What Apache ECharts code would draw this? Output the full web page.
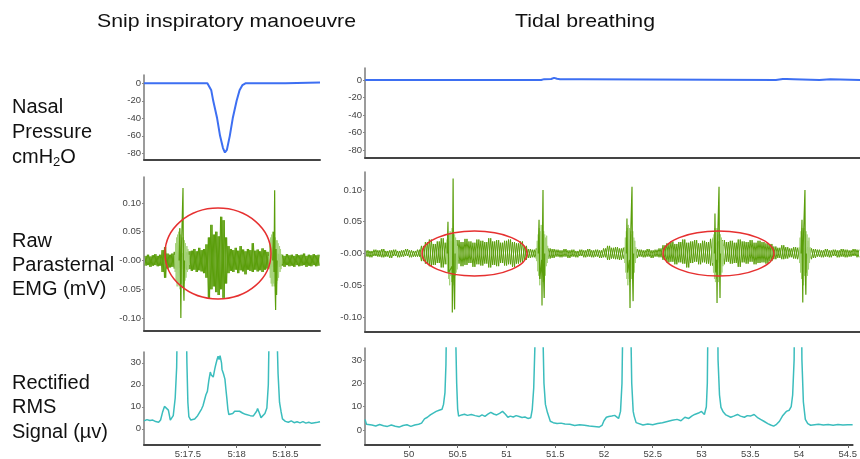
<!DOCTYPE html>
<html><head><meta charset="utf-8">
<script src="https://cdn.jsdelivr.net/npm/echarts@6/dist/echarts.min.js"></script>
<style>html,body{margin:0;padding:0;background:#fff}#c{width:860px;height:459px}</style>
</head><body><div id="c"></div><script>
// ---------- tick labels ----------
const leftTimeTicks = [17.5, 18, 18.5];
const rightTimeTicks = [50, 50.5, 51, 51.5, 52, 52.5, 53, 53.5, 54, 54.5];
const pressureTicks = [0, -20, -40, -60, -80];
const emgTicks = [0.1, 0.05, 0, -0.05, -0.1];
const rmsTicks = [0, 10, 20, 30];

// ---------- nasal pressure (cmH2O) [time s, value] ----------
const pressureLeft = [[17.05,0],[17.70,0],[17.72,-2],[17.74,-8],[17.76,-20],[17.78,-30],[17.80,-40],[17.83,-60],[17.86,-74],[17.88,-79],[17.90,-76],[17.93,-60],[17.96,-40],[18.00,-20],[18.03,-8],[18.06,-2],[18.09,0],[18.50,0],[18.52,1],[18.855,1]];
const pressureRight = [[49.55,0],[51.33,0],[51.36,1],[51.43,1.2],[51.46,2.5],[51.49,1.5],[51.52,1],[51.74,1],[51.76,0],[53.70,0],[53.72,1],[53.77,1.2],[53.79,2.3],[53.81,1.2],[53.88,1],[53.90,0],[54.14,0],[54.16,1],[54.25,1],[54.27,0],[54.55,0]];

// ---------- raw EMG (mV): upper / lower edges of the trace, sampled every step ----------
const emgLeftStart = 17.06, emgLeftStep = 0.025;
const emgLeftUpper = [0.008,0.01,0.007,0.009,0.011,0.008,0.01, 0.018,0.023,0.012, 0.01,0.012, 0.015,0.014,0.016,0.013,0.015,0.014,0.016, 0.017,0.02,0.016,0.022,0.018,0.02, 0.028,0.04,0.062,0.045,0.05,0.042,0.076,0.07,0.04,0.025, 0.02,0.018,0.022,0.017,0.025,0.019,0.016,0.02,0.018,0.03,0.017,0.019,0.016,0.021,0.018,0.015, 0.012,0.013,0.011,0.012,0.011, 0.01,0.008,0.011,0.009,0.01,0.008,0.011,0.009,0.01,0.012,0.008,0.01,0.009,0.011,0.009,0.01];
const emgLeftLower = [-0.009,-0.008,-0.011,-0.009,-0.008,-0.01,-0.009, -0.02,-0.03,-0.014, -0.012,-0.011, -0.014,-0.016,-0.013,-0.015,-0.014,-0.016,-0.015, -0.018,-0.016,-0.02,-0.017,-0.019,-0.022, -0.03,-0.065,-0.05,-0.045,-0.055,-0.06,-0.05,-0.065,-0.04,-0.022, -0.018,-0.02,-0.016,-0.022,-0.017,-0.019,-0.024,-0.016,-0.018,-0.02,-0.016,-0.019,-0.017,-0.02,-0.016,-0.014, -0.012,-0.011,-0.013,-0.012,-0.011, -0.009,-0.011,-0.008,-0.01,-0.009,-0.011,-0.008,-0.01,-0.009,-0.008,-0.011,-0.009,-0.01,-0.008,-0.01,-0.009];
const emgRightStart = 49.56, emgRightStep = 0.04;
const emgRightUpper = [0.005,0.004,0.006,0.005,0.007,0.004,0.005,0.006,0.004,0.005,0.007,0.005,0.004,0.006, 0.012,0.018,0.022,0.015,0.019,0.024,0.017,0.02,0.016,0.021,0.018,0.023,0.019,0.017,0.022,0.02,0.018,0.024,0.019,0.021,0.017,0.02,0.022,0.018,0.016,0.019,0.012, 0.007,0.006,0.008,0.01,0.009,0.008,0.007, 0.006,0.005,0.007,0.005,0.006,0.004,0.006,0.005,0.007,0.005,0.006,0.005,0.008,0.012,0.009, 0.01,0.008,0.009,0.01,0.008,0.007, 0.006,0.005,0.007,0.005,0.006,0.008, 0.013,0.016,0.019,0.015,0.018,0.022,0.017,0.019,0.021,0.016,0.02,0.018,0.023,0.017,0.019,0.021,0.018,0.02,0.017,0.022,0.019,0.018,0.021,0.017,0.02,0.018,0.016,0.015,0.011, 0.009,0.013,0.01,0.008, 0.01,0.009,0.008,0.01,0.008,0.007, 0.006,0.005,0.007,0.005,0.006,0.005,0.007,0.006,0.005,0.007,0.006];
const emgRightLower = [-0.005,-0.006,-0.004,-0.005,-0.006,-0.005,-0.007,-0.004,-0.006,-0.005,-0.004,-0.006,-0.005,-0.005, -0.012,-0.016,-0.02,-0.018,-0.015,-0.022,-0.017,-0.019,-0.027,-0.016,-0.02,-0.018,-0.015,-0.021,-0.017,-0.019,-0.016,-0.022,-0.018,-0.02,-0.015,-0.019,-0.017,-0.021,-0.016,-0.014,-0.01, -0.007,-0.006,-0.008,-0.009,-0.01,-0.008,-0.007, -0.005,-0.006,-0.005,-0.007,-0.005,-0.006,-0.004,-0.006,-0.005,-0.006,-0.005,-0.007,-0.006,-0.01,-0.008, -0.009,-0.01,-0.008,-0.009,-0.01,-0.007, -0.005,-0.006,-0.005,-0.007,-0.005,-0.006, -0.01,-0.014,-0.013,-0.017,-0.014,-0.016,-0.022,-0.015,-0.013,-0.017,-0.014,-0.016,-0.019,-0.015,-0.014,-0.017,-0.013,-0.016,-0.015,-0.021,-0.014,-0.016,-0.013,-0.017,-0.015,-0.014,-0.016,-0.012,-0.009, -0.007,-0.009,-0.008,-0.006, -0.008,-0.009,-0.01,-0.008,-0.009,-0.007, -0.005,-0.006,-0.005,-0.006,-0.004,-0.006,-0.005,-0.006,-0.005,-0.004,-0.006];

// ECG artefact bursts (light) and their tall spikes, [time s, mV]
const burstL1 = [[17.365,0.01],[17.37,-0.02],[17.375,0.03],[17.38,-0.035],[17.385,0.04],[17.39,-0.045],[17.395,0.045],[17.40,-0.04],[17.405,0.05],[17.41,-0.045],[17.415,0.056],[17.42,-0.05],[17.425,0.045],[17.435,-0.04],[17.44,0.04],[17.445,-0.045],[17.455,0.04],[17.46,-0.04],[17.465,0.035],[17.47,-0.035],[17.475,0.03],[17.48,-0.03],[17.49,0.025],[17.495,-0.02],[17.5,0.02],[17.505,-0.015],[17.51,0.01],[17.515,-0.008]];
const burstL2 = [[18.33,0.008],[18.335,-0.015],[18.34,0.03],[18.345,-0.03],[18.35,0.04],[18.355,-0.04],[18.36,0.045],[18.365,-0.045],[18.37,0.05],[18.375,-0.04],[18.38,0.045],[18.385,-0.045],[18.395,0.04],[18.4,-0.045],[18.405,0.035],[18.41,-0.04],[18.415,0.035],[18.42,-0.035],[18.425,0.03],[18.43,-0.03],[18.44,0.025],[18.445,-0.02],[18.45,0.02],[18.455,-0.015],[18.46,0.01],[18.465,-0.006]];
const spikeL1 = [[17.41,0],[17.418,0.056],[17.424,-0.03],[17.428,-0.1],[17.434,0.02],[17.45,0.126],[17.455,-0.04],[17.46,-0.07],[17.465,0]];
const spikeL2 = [[18.37,0],[18.378,0.05],[18.383,-0.02],[18.39,0.122],[18.395,-0.05],[18.40,-0.086],[18.405,0.02],[18.41,-0.06],[18.415,0]];

const burstR1 = [[50.37,0.008],[50.375,-0.015],[50.38,0.022],[50.385,-0.03],[50.39,0.028],[50.395,-0.04],[50.40,0.03],[50.405,-0.05],[50.41,0.035],[50.415,-0.035],[50.42,0.03],[50.425,-0.045],[50.43,0.04],[50.435,-0.03],[50.445,0.035],[50.45,-0.05],[50.455,0.03],[50.46,-0.035],[50.465,0.025],[50.47,-0.03],[50.475,0.02],[50.48,-0.025],[50.485,0.012],[50.49,-0.01]];
const burstR2 = [[51.28,0.006],[51.285,-0.012],[51.29,0.02],[51.295,-0.028],[51.30,0.03],[51.305,-0.035],[51.31,0.04],[51.315,-0.05],[51.32,0.035],[51.325,-0.04],[51.33,0.045],[51.335,-0.03],[51.34,0.03],[51.35,-0.045],[51.355,0.035],[51.36,-0.03],[51.365,0.03],[51.37,-0.035],[51.375,0.025],[51.38,-0.02],[51.385,0.028],[51.39,-0.015],[51.395,0.012],[51.40,-0.008]];
const burstR3 = [[52.17,0.01],[52.175,-0.015],[52.18,0.025],[52.185,-0.03],[52.19,0.035],[52.195,-0.04],[52.20,0.04],[52.205,-0.05],[52.21,0.045],[52.215,-0.04],[52.22,0.04],[52.225,-0.045],[52.235,0.035],[52.24,-0.04],[52.245,0.03],[52.25,-0.04],[52.255,0.035],[52.26,-0.03],[52.265,0.025],[52.27,-0.03],[52.275,0.02],[52.28,-0.015],[52.285,0.01],[52.29,-0.008]];
const burstR4 = [[53.055,0.008],[53.06,-0.015],[53.065,0.025],[53.07,-0.03],[53.075,0.03],[53.08,-0.04],[53.085,0.04],[53.09,-0.045],[53.095,0.035],[53.10,-0.04],[53.105,0.04],[53.11,-0.035],[53.115,0.03],[53.12,-0.045],[53.13,0.035],[53.135,-0.03],[53.14,0.03],[53.145,-0.035],[53.15,0.025],[53.155,-0.03],[53.16,0.02],[53.165,-0.02],[53.17,0.012],[53.175,-0.008]];
const burstR5 = [[53.935,0.01],[53.94,-0.015],[53.945,0.025],[53.95,-0.03],[53.955,0.035],[53.96,-0.04],[53.965,0.04],[53.97,-0.045],[53.975,0.035],[53.98,-0.05],[53.985,0.04],[53.99,-0.035],[53.995,0.03],[54.0,-0.04],[54.005,0.035],[54.01,-0.03],[54.015,0.03],[54.02,-0.035],[54.025,0.02],[54.03,-0.025],[54.035,0.025],[54.04,-0.015],[54.045,0.01],[54.05,-0.006]];
const spikeR1 = [[50.38,0],[50.388,0.05],[50.395,-0.03],[50.43,-0.02],[50.432,-0.093],[50.436,0.02],[50.44,0.118],[50.445,-0.03],[50.455,-0.088],[50.46,0]];
const spikeR2 = [[51.30,0],[51.308,0.053],[51.315,-0.04],[51.335,-0.01],[51.338,-0.082],[51.342,0.02],[51.348,0.1],[51.352,-0.03],[51.36,-0.07],[51.365,0]];
const spikeR3 = [[52.19,0],[52.196,0.055],[52.202,-0.03],[52.222,-0.01],[52.227,-0.086],[52.232,0.02],[52.247,0.105],[52.252,-0.03],[52.258,-0.075],[52.263,0]];
const spikeR4 = [[53.08,0],[53.085,0.063],[53.092,-0.03],[53.102,-0.01],[53.106,-0.078],[53.112,0.02],[53.126,0.105],[53.131,-0.02],[53.136,-0.07],[53.14,0]];
const spikeR5 = [[53.955,0],[53.964,0.053],[53.968,-0.02],[53.972,-0.077],[53.976,0.01],[53.994,0.1],[53.998,-0.03],[54.003,-0.065],[54.008,0]];

// ---------- rectified RMS (µV) [time s, value] ----------
const rmsLeft = [[17.05,3.6],[17.08,4.2],[17.11,3.8],[17.14,4.0],[17.17,3.3],[17.20,3.0],[17.22,4.0],[17.24,7.5],[17.26,10.2],[17.28,11.0],[17.30,8.5],[17.32,4.0],[17.335,3.4],[17.35,6.0],[17.37,14],[17.385,28],[17.395,60],[17.40,80],[17.47,80],[17.48,60],[17.49,30],[17.50,12],[17.51,5.6],[17.53,4.0],[17.55,3.8],[17.57,4.5],[17.60,6.0],[17.62,7.5],[17.64,9.0],[17.655,10.5],[17.67,13],[17.685,15.5],[17.70,17],[17.715,22],[17.73,25.8],[17.74,24.5],[17.75,25],[17.76,23.5],[17.775,27],[17.785,29],[17.80,31.6],[17.81,33],[17.82,31.5],[17.83,33.2],[17.845,30],[17.85,27],[17.865,25],[17.88,22.6],[17.89,18],[17.90,13.7],[17.91,9],[17.92,6.5],[17.94,6.8],[17.96,7.0],[17.98,8.0],[18.00,8.3],[18.03,8.0],[18.06,7.2],[18.09,6.6],[18.11,6.5],[18.14,6.0],[18.17,5.8],[18.19,5.6],[18.205,8],[18.215,9.2],[18.23,7.5],[18.25,5.1],[18.27,5.5],[18.29,7.0],[18.31,9.5],[18.325,20],[18.335,50],[18.34,80],[18.40,80],[18.41,50],[18.425,25],[18.44,12],[18.455,8],[18.47,4.5],[18.485,3.8],[18.50,3.4],[18.53,3.0],[18.56,3.6],[18.59,2.8],[18.62,3.2],[18.65,2.7],[18.68,3.3],[18.71,2.6],[18.74,3.0],[18.77,2.5],[18.80,2.8],[18.83,3.0],[18.855,3.2]];
const rmsRight = [[49.55,4.6],[49.565,2.5],[49.58,1.7],[49.62,2.2],[49.66,1.8],[49.70,2.4],[49.74,1.9],[49.78,1.6],[49.82,2.2],[49.86,1.7],[49.90,1.3],[49.94,2.0],[49.98,2.3],[50.02,1.6],[50.06,2.2],[50.10,2.5],[50.13,3.0],[50.16,4.8],[50.19,5.5],[50.22,6.5],[50.25,7.3],[50.28,8.0],[50.31,8.5],[50.34,8.9],[50.355,11],[50.37,16],[50.38,28],[50.39,60],[50.40,80],[50.47,80],[50.48,40],[50.49,20],[50.50,9],[50.51,6.0],[50.54,6.5],[50.57,6.8],[50.60,6.3],[50.64,6.7],[50.68,6.2],[50.72,5.8],[50.75,6.5],[50.78,5.9],[50.81,6.8],[50.84,7.6],[50.87,6.9],[50.90,6.5],[50.93,7.2],[50.96,8.0],[50.99,6.8],[51.015,5.5],[51.04,6.0],[51.07,5.6],[51.10,6.2],[51.13,5.8],[51.16,5.4],[51.19,5.6],[51.22,5.0],[51.25,5.3],[51.265,8.9],[51.28,18],[51.295,40],[51.30,80],[51.37,80],[51.375,40],[51.385,20],[51.40,11],[51.42,7.6],[51.45,3.8],[51.48,3.2],[51.52,2.8],[51.56,3.0],[51.60,2.6],[51.65,2.5],[51.70,2.0],[51.75,2.3],[51.80,2.1],[51.85,1.8],[51.90,1.6],[51.95,1.3],[51.98,2.0],[52.00,4.0],[52.025,5.5],[52.05,5.8],[52.08,6.0],[52.11,6.3],[52.13,5.5],[52.15,5.0],[52.17,8],[52.185,20],[52.195,50],[52.20,80],[52.27,80],[52.275,45],[52.285,20],[52.30,8],[52.31,6.0],[52.33,3.2],[52.35,2.5],[52.40,2.2],[52.45,2.6],[52.50,2.3],[52.55,2.8],[52.60,3.2],[52.66,3.8],[52.70,4.2],[52.75,4.6],[52.79,4.0],[52.83,5.5],[52.87,5.0],[52.90,6.0],[52.93,6.7],[52.97,7.3],[53.00,8.0],[53.03,6.7],[53.05,10],[53.06,20],[53.07,60],[53.08,80],[53.16,80],[53.17,30],[53.185,15],[53.20,9.7],[53.22,8],[53.25,6.5],[53.27,6.0],[53.30,5.5],[53.33,6.0],[53.37,6.7],[53.40,6.0],[53.44,5.5],[53.47,6.2],[53.50,6.0],[53.54,6.7],[53.58,5.2],[53.61,4.5],[53.64,3.8],[53.68,2.8],[53.71,2.2],[53.74,1.7],[53.77,2.5],[53.80,3.8],[53.83,6.0],[53.85,7.0],[53.87,8.0],[53.90,8.5],[53.92,10],[53.935,15],[53.95,30],[53.96,80],[54.02,80],[54.03,30],[54.045,12],[54.065,4.6],[54.09,2.8],[54.12,2.1],[54.16,2.3],[54.20,2.5],[54.25,2.2],[54.30,2.4],[54.35,2.1],[54.40,2.4],[54.45,2.2],[54.50,2.3],[54.55,2.3]];

// ---------- helpers ----------
// trace that alternates between the upper and lower edge of the band
function zigzag(start, step, upper, lower, flip) {
  const out = [];
  for (let i = 0; i < upper.length; i++) {
    const a = flip ? lower[i] : upper[i], b = flip ? upper[i] : lower[i];
    out.push([start + i * step, a]);
    out.push([start + i * step + step / 2, b]);
  }
  return out;
}
function joinGaps(parts) {
  const out = [];
  parts.forEach((p, k) => { if (k) out.push([p[0][0], '-']); p.forEach(d => out.push(d)); });
  return out;
}

const FONT = '"Liberation Sans", Arial, Helvetica, sans-serif';
const AXIS_GRAY = '#7a7a7a', AXIS_DARK = '#444';
const C_BLUE = '#3d6ff2', C_DARK = '#5a9e0a', C_LIGHT = '#a6d37a', C_TEAL = '#3bbdbd';

const grids = [
  {left:144, top:75,  width:176, height:85},
  {left:144, top:177, width:176, height:154},
  {left:144, top:352, width:176, height:95},
  {left:365, top:68,  width:495, height:90},
  {left:365, top:172, width:495, height:160},
  {left:365, top:348, width:495, height:98}
];
const yRanges = [[-87.6, 9.5], [-0.1226, 0.1452], [-7.33, 34.9], [-88.8, 13.7], [-0.1236, 0.1283], [-6.34, 35.07]];
const yTicks = [pressureTicks, emgTicks, rmsTicks, pressureTicks, emgTicks, rmsTicks];

const lbl = {color:'#444', fontSize:9.5, fontFamily:FONT};
const xAxes = grids.map((g, i) => {
  const left = i < 3;
  const showLbl = (i === 2 || i === 5);
  const ticks = left ? leftTimeTicks : rightTimeTicks;
  return {
    type:'value', gridIndex:i, position:'bottom',
    min: left ? 17.05 : 49.55, max: left ? 18.855 : 54.55,
    axisLine:{show:true, onZero:false, lineStyle:{color:AXIS_DARK, width:2}},
    axisTick:{show:showLbl, customValues:ticks, length:3, lineStyle:{color:'#666'}},
    axisLabel:{show:showLbl, customValues:ticks, margin:4, ...lbl,
      formatter: v => left ? ('5:' + (Number.isInteger(v) ? v.toFixed(0) : String(v))) : String(v)},
    splitLine:{show:false}
  };
});
const yAxes = grids.map((g, i) => ({
  type:'value', gridIndex:i, min:yRanges[i][0], max:yRanges[i][1],
  axisLine:{show:true, onZero:false, lineStyle:{color:AXIS_GRAY, width:1.5}},
  axisTick:{show:true, customValues:yTicks[i], length:2, lineStyle:{color:'#888'}},
  axisLabel:{show:true, customValues:yTicks[i], margin:3, ...lbl,
    formatter: v => (i === 1 || i === 4) ? (Math.abs(v) < 1e-9 ? '-0.00' : v.toFixed(2)) : String(v)},
  splitLine:{show:false}
}));

function line(idx, data, color, width, z) {
  return {type:'line', xAxisIndex:idx, yAxisIndex:idx, data, showSymbol:false, symbol:'none',
    clip:true, animation:false, z:z||2, lineStyle:{color, width}, connectNulls:false};
}

const series = [
  line(0, pressureLeft, C_BLUE, 2),
  line(3, pressureRight, C_BLUE, 2),
  line(1, zigzag(emgLeftStart, emgLeftStep, emgLeftUpper, emgLeftLower, false), C_DARK, 1, 2),
  line(1, zigzag(emgLeftStart, emgLeftStep, emgLeftUpper, emgLeftLower, true), C_DARK, 1, 2),
  line(1, joinGaps([burstL1, burstL2]), C_LIGHT, 1, 3),
  line(1, joinGaps([spikeL1, spikeL2]), C_DARK, 1.2, 4),
  line(4, zigzag(emgRightStart, emgRightStep, emgRightUpper, emgRightLower, false), C_DARK, 1, 2),
  line(4, zigzag(emgRightStart, emgRightStep, emgRightUpper, emgRightLower, true), C_DARK, 1, 2),
  line(4, joinGaps([burstR1, burstR2, burstR3, burstR4, burstR5]), C_LIGHT, 1, 3),
  line(4, joinGaps([spikeR1, spikeR2, spikeR3, spikeR4, spikeR5]), C_DARK, 1.2, 4),
  line(2, rmsLeft, C_TEAL, 1.5),
  line(5, rmsRight, C_TEAL, 1.5)
];

// measure for subscript placement
const mctx = document.createElement('canvas').getContext('2d');
mctx.font = '20px ' + FONT;
const wCmH = mctx.measureText('cmH').width;
mctx.font = '13px ' + FONT;
const wSub = mctx.measureText('2').width;

function txt(text, x, y, size, extra) {
  return Object.assign({type:'text', x, y, silent:true,
    style:{text, fill:'#111', fontSize:size, fontFamily:FONT, verticalAlign:'middle', textVerticalAlign:'middle', align:'left', textAlign:'left'}}, extra||{});
}
function ell(cx, cy, rx, ry) {
  return {type:'ellipse', silent:true, z:10, shape:{cx, cy, rx, ry}, style:{fill:null, stroke:'#e63030', lineWidth:1.5}};
}

const graphic = [
  txt('Snip inspiratory manoeuvre', 97, 22, 19, {scaleX:1.12}),
  txt('Tidal breathing', 515, 22, 19, {scaleX:1.12}),
  txt('Nasal', 12, 107, 20),
  txt('Pressure', 12, 132, 20),
  txt('cmH', 12, 157, 20),
  txt('2', 12 + wCmH, 162, 13),
  txt('O', 12 + wCmH + wSub, 157, 20),
  txt('Raw', 12, 241, 20),
  txt('Parasternal', 12, 265, 20),
  txt('EMG (mV)', 12, 289, 20),
  txt('Rectified', 12, 383, 20),
  txt('RMS', 12, 407, 20),
  txt('Signal (µv)', 12, 432, 20),
  ell(218, 253.5, 53, 45.5),
  ell(474.5, 253.5, 52.5, 22.5),
  ell(718.5, 253.5, 55.5, 22.5)
];

const chart = echarts.init(document.getElementById('c'), null, {renderer:'canvas'});
chart.setOption({animation:false, backgroundColor:'#fff', grid:grids, xAxis:xAxes, yAxis:yAxes, series, graphic});
</script></body></html>
